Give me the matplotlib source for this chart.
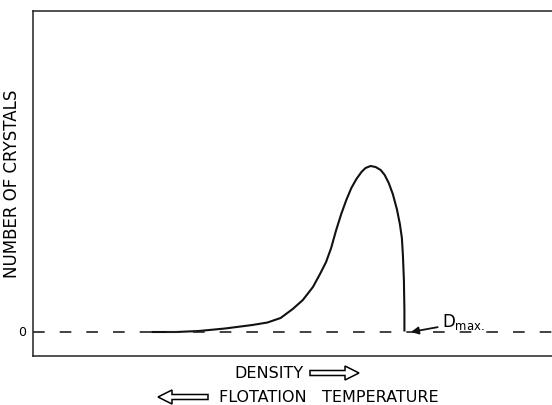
import matplotlib
matplotlib.use("Agg")
import matplotlib.pyplot as plt
from matplotlib.patches import FancyArrow

plt.rcParams['font.family'] = ['DejaVu Sans']

# crystal count vs density (arbitrary units)
density = [117, 142, 164, 190, 217, 232, 245, 257, 267, 277,
           284, 290, 295, 300, 305, 310, 315, 320, 325, 329,
           334, 339, 344, 348, 352, 356, 360, 363, 365, 366,
           367, 367.5, 367.5]
crystals = [-0.5, -0.5, 0.5, 3, 6.5, 9, 13.5, 22.5, 31.5, 44.5,
            57.5, 69.5, 83.5, 101.5, 117.5, 131.5, 143.5, 152.5, 159.5, 163.5,
            165.5, 164.5, 161.5, 156.5, 148.5, 137.5, 122.5, 107.5, 93.5, 76.5,
            51.5, 21.5, 0]
d_max = 367.5

W, H = 552, 405
fig = plt.figure(figsize=(W / 100, H / 100), dpi=100)
ax = fig.add_axes([33 / W, 1 - 356 / H, 1 - 33 / W + 0.01, 345 / H])

ax.plot(density, crystals, color="#111111", lw=1.5, solid_capstyle="butt")
ax.axhline(0, color="#222222", lw=1.2, ls=(0, (7, 9)))

ax.set_xlim(0, 519)
ax.set_ylim(-24.5, 320.5)
ax.set_xticks([])
ax.set_yticks([0])
ax.set_yticklabels(["0"], fontsize=9)
ax.tick_params(axis="y", length=0, pad=5)
ax.spines["right"].set_visible(False)
for s in ["left", "top", "bottom"]:
    ax.spines[s].set_linewidth(1.1)
    ax.spines[s].set_color("#222222")

ax.set_ylabel("NUMBER OF CRYSTALS", fontsize=12)
ax.yaxis.set_label_coords(-12 / 519, 0.5)

ax.annotate(r"D$_{\rm max.}$", xy=(d_max + 6.5, -0.5), xytext=(d_max + 37, 9),
            fontsize=12, ha="left", va="center",
            arrowprops=dict(arrowstyle="-|>", color="#111111", lw=1.3,
                            shrinkA=1, shrinkB=0, mutation_scale=11))

# axis captions with hollow arrows
fig.text(268.5 / W, 1 - 373 / H, "DENSITY", fontsize=11.5, ha="center", va="center")
fig.text(329 / W, 1 - 397 / H, "FLOTATION   TEMPERATURE", fontsize=11.5,
         ha="center", va="center")

sx, sy = 1 / W, 1 / H
for x0, dx, y0 in [(310, 49, 373), (208, -50, 397)]:
    fig.patches.append(FancyArrow(x0 * sx, 1 - y0 * sy, dx * sx, 0, width=5 * sy,
                                  head_width=14 * sy, head_length=14 * sx,
                                  length_includes_head=True, fc="white", ec="black",
                                  lw=1.1, transform=fig.transFigure))

fig.savefig("out.png", dpi=100)
